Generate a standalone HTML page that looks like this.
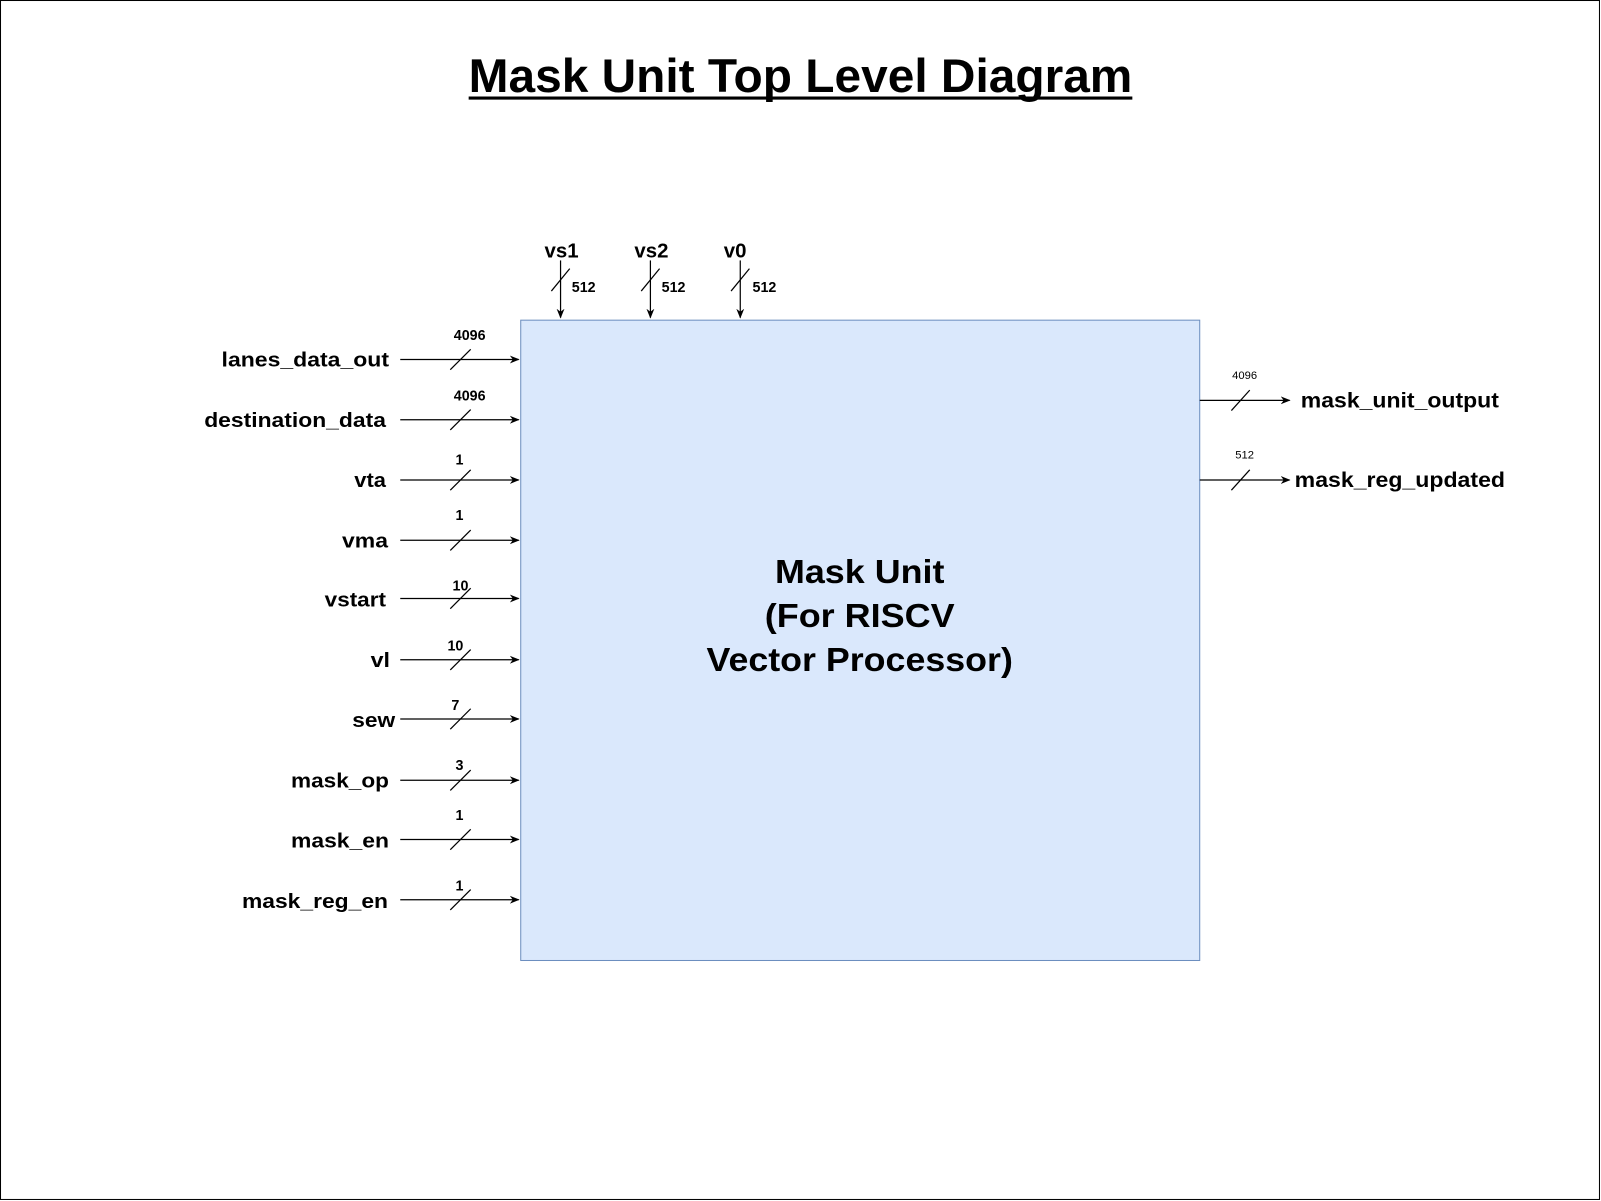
<!DOCTYPE html>
<html><head><meta charset="utf-8"><style>
html,body{margin:0;padding:0;background:#fff;}
svg{display:block;}
text{font-family:"Liberation Sans",Arial,sans-serif;fill:#000;}
</style></head><body>
<svg width="1601" height="1201" viewBox="0 0 1568 1176" preserveAspectRatio="none" xmlns="http://www.w3.org/2000/svg">
<defs><marker id="a" viewBox="0 0 10 10" refX="9" refY="5" markerWidth="8" markerHeight="8" orient="auto"><path d="M0,1 L10,5 L0,9 L3,5 z" fill="#000"/></marker></defs>
<rect x="0.5" y="0.5" width="1566" height="1174" fill="#fff" stroke="#000"/>
<text x="459" y="90" font-size="46" font-weight="bold" textLength="650" lengthAdjust="spacingAndGlyphs">Mask Unit Top Level Diagram</text>
<line x1="459" y1="96" x2="1109" y2="96" stroke="#000" stroke-width="3"/>
<rect x="510" y="313.5" width="665" height="627" fill="#dae8fc" stroke="#6c8ebf"/>
<g font-weight="bold" font-size="33" lengthAdjust="spacingAndGlyphs">
<text x="759" y="571" textLength="166" lengthAdjust="spacingAndGlyphs">Mask Unit</text>
<text x="749" y="614" textLength="186" lengthAdjust="spacingAndGlyphs">(For RISCV</text>
<text x="692" y="657" textLength="300" lengthAdjust="spacingAndGlyphs">Vector Processor)</text>
</g>
<g stroke="#000" stroke-width="1.2">
<line x1="549" y1="255" x2="549" y2="311" marker-end="url(#a)"/><line x1="540" y1="285" x2="558" y2="263"/>
<line x1="637" y1="255" x2="637" y2="311" marker-end="url(#a)"/><line x1="628" y1="285" x2="646" y2="263"/>
<line x1="725" y1="255" x2="725" y2="311" marker-end="url(#a)"/><line x1="716" y1="285" x2="734" y2="263"/>
</g>
<g font-weight="bold" font-size="20" text-anchor="middle">
<text x="550" y="252">vs1</text><text x="638" y="252">vs2</text><text x="720" y="252">v0</text>
</g>
<g font-weight="bold" font-size="14">
<text x="560" y="286">512</text><text x="648" y="286">512</text><text x="737" y="286">512</text>
</g>
<g stroke="#000" stroke-width="1.2">
<line x1="392" y1="352" x2="508" y2="352" marker-end="url(#a)"/><line x1="441" y1="362" x2="461" y2="342"/>
<line x1="392" y1="411" x2="508" y2="411" marker-end="url(#a)"/><line x1="441" y1="421" x2="461" y2="401"/>
<line x1="392" y1="470" x2="508" y2="470" marker-end="url(#a)"/><line x1="441" y1="480" x2="461" y2="460"/>
<line x1="392" y1="529" x2="508" y2="529" marker-end="url(#a)"/><line x1="441" y1="539" x2="461" y2="519"/>
<line x1="392" y1="586" x2="508" y2="586" marker-end="url(#a)"/><line x1="441" y1="596" x2="461" y2="576"/>
<line x1="392" y1="646" x2="508" y2="646" marker-end="url(#a)"/><line x1="441" y1="656" x2="461" y2="636"/>
<line x1="392" y1="704" x2="508" y2="704" marker-end="url(#a)"/><line x1="441" y1="714" x2="461" y2="694"/>
<line x1="392" y1="764" x2="508" y2="764" marker-end="url(#a)"/><line x1="441" y1="774" x2="461" y2="754"/>
<line x1="392" y1="822" x2="508" y2="822" marker-end="url(#a)"/><line x1="441" y1="832" x2="461" y2="812"/>
<line x1="392" y1="881" x2="508" y2="881" marker-end="url(#a)"/><line x1="441" y1="891" x2="461" y2="871"/>
<line x1="1175" y1="392" x2="1263" y2="392" marker-end="url(#a)"/><line x1="1206" y1="402" x2="1224" y2="382"/>
<line x1="1175" y1="470" x2="1263" y2="470" marker-end="url(#a)"/><line x1="1206" y1="480" x2="1224" y2="460"/>
</g>
<g font-weight="bold" font-size="20">
<text x="217" y="359" textLength="164" lengthAdjust="spacingAndGlyphs">lanes_data_out</text>
<text x="200" y="418" textLength="178" lengthAdjust="spacingAndGlyphs">destination_data</text>
<text x="347" y="477" textLength="31" lengthAdjust="spacingAndGlyphs">vta</text>
<text x="335" y="536" textLength="45" lengthAdjust="spacingAndGlyphs">vma</text>
<text x="318" y="594" textLength="60" lengthAdjust="spacingAndGlyphs">vstart</text>
<text x="363" y="653" textLength="19" lengthAdjust="spacingAndGlyphs">vl</text>
<text x="345" y="712" textLength="42" lengthAdjust="spacingAndGlyphs">sew</text>
<text x="285" y="771" textLength="96" lengthAdjust="spacingAndGlyphs">mask_op</text>
<text x="285" y="830" textLength="96" lengthAdjust="spacingAndGlyphs">mask_en</text>
<text x="237" y="889" textLength="143" lengthAdjust="spacingAndGlyphs">mask_reg_en</text>
</g>
<g font-weight="bold" font-size="14" text-anchor="middle">
<text x="460" y="333">4096</text>
<text x="460" y="392">4096</text>
<text x="450" y="455">1</text>
<text x="450" y="509">1</text>
<text x="451" y="578">10</text>
<text x="446" y="637">10</text>
<text x="446" y="695">7</text>
<text x="450" y="754">3</text>
<text x="450" y="803">1</text>
<text x="450" y="872">1</text>
</g>
<g font-size="11" text-anchor="middle">
<text x="1219" y="371">4096</text><text x="1219" y="449">512</text>
</g>
<g font-weight="bold" font-size="21">
<text x="1274" y="399" textLength="194" lengthAdjust="spacingAndGlyphs">mask_unit_output</text>
<text x="1268" y="477" textLength="206" lengthAdjust="spacingAndGlyphs">mask_reg_updated</text>
</g>
</svg>
</body></html>
